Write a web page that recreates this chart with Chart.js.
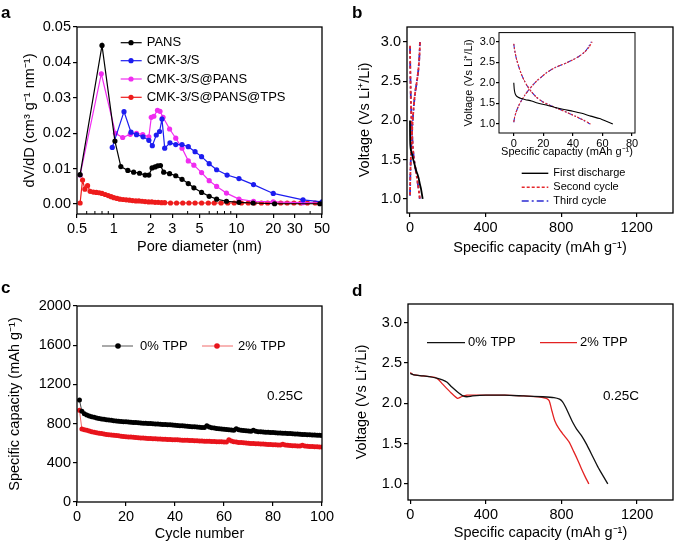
<!DOCTYPE html>
<html>
<head>
<meta charset="utf-8">
<script src="https://cdn.jsdelivr.net/npm/chart.js@4.4.1/dist/chart.umd.min.js"></script>
<style>
  html, body { margin: 0; padding: 0; background: #fff; }
  body { width: 675px; height: 543px; position: relative; overflow: hidden; }
  .panel { position: absolute; }
  .tag { position: absolute; font: bold 17px "Liberation Sans", Arial, sans-serif; line-height: 17px; color: #000; }
</style>
</head>
<body>
<div class="panel" style="left:0;top:0;width:337px;height:270px"><canvas id="chartA"></canvas></div>
<div class="panel" style="left:340px;top:0;width:335px;height:270px"><canvas id="chartB"></canvas></div>
<div class="panel" style="left:455px;top:25px;width:185px;height:135px"><canvas id="chartInset"></canvas></div>
<div class="panel" style="left:0;top:270px;width:337px;height:273px"><canvas id="chartC"></canvas></div>
<div class="panel" style="left:340px;top:270px;width:335px;height:273px"><canvas id="chartD"></canvas></div>
<div class="tag" style="left:1px;top:4px">a</div>
<div class="tag" style="left:352px;top:4px">b</div>
<div class="tag" style="left:1px;top:279px">c</div>
<div class="tag" style="left:352px;top:282px">d</div>
<script>
// ---- panel a: pore size distribution ----
const pansD = [0.53, 0.80, 1.02, 1.14, 1.30, 1.45, 1.62, 1.80, 1.93, 2.05, 2.17, 2.28, 2.40, 2.55, 2.85, 3.2, 3.6, 4.05, 4.5, 5.2, 6.0, 6.9, 8.3, 10.5, 13.7, 20.5, 48];
const pansV = [0.0083, 0.0448, 0.0178, 0.0106, 0.0095, 0.0090, 0.0087, 0.0082, 0.0082, 0.0102, 0.0105, 0.0108, 0.0109, 0.0090, 0.0086, 0.0080, 0.0070, 0.0058, 0.0046, 0.0033, 0.0022, 0.0014, 0.0008, 0.0005, 0.0003, 0.0001, 0.0001];

const cmkD = [0.97, 1.21, 1.38, 1.53, 1.73, 1.93, 2.06, 2.22, 2.36, 2.47, 2.6, 2.87, 3.2, 3.6, 4.05, 4.6, 5.2, 6.0, 6.9, 8.4, 10.5, 13.8, 20, 35, 50];
const cmkV = [0.0160, 0.0261, 0.0203, 0.0196, 0.0190, 0.0180, 0.0165, 0.0195, 0.0205, 0.0240, 0.0158, 0.0173, 0.0168, 0.0168, 0.0162, 0.0148, 0.0134, 0.0114, 0.0097, 0.0082, 0.0072, 0.0055, 0.0030, 0.0012, 0.0006];

const cmkPansD = [0.53, 0.79, 1.03, 1.18, 1.36, 1.53, 1.72, 1.93, 2.02, 2.12, 2.27, 2.38, 2.52, 2.85, 3.2, 3.6, 4.05, 4.5, 5.2, 6.0, 6.9, 8.3, 10.5, 13.8, 20, 35, 50];
const cmkPansV = [0.0082, 0.0368, 0.0200, 0.0188, 0.0197, 0.0200, 0.0196, 0.0190, 0.0245, 0.0248, 0.0265, 0.0262, 0.0245, 0.0212, 0.0186, 0.0158, 0.0122, 0.0110, 0.0089, 0.0066, 0.0050, 0.0031, 0.0014, 0.0008, 0.0006, 0.0004, 0.0003];

const tpsD = [0.53, 0.555, 0.58, 0.61, 0.64, 0.68, 0.72, 0.76, 0.80, 0.85, 0.90, 0.95, 1.0, 1.06, 1.12, 1.19, 1.26, 1.34, 1.42, 1.51, 1.6, 1.7, 1.8, 1.92, 2.04, 2.17, 2.3, 2.45, 2.6,
              2.9, 3.25, 3.65, 4.1, 4.6, 5.2, 5.9, 6.6, 7.5, 8.5, 9.6, 11, 12.5, 14, 16, 18, 20.5, 23, 26, 29.5, 33.5, 38, 44, 50];
const tpsV = [0.0003, 0.0068, 0.0042, 0.0052, 0.0036, 0.0034, 0.0033, 0.0032, 0.0030, 0.0027, 0.0024, 0.0021, 0.0018, 0.0016, 0.0014, 0.0013, 0.0012, 0.0011, 0.0010, 0.0009, 0.0009, 0.0008, 0.0007, 0.0006, 0.0006, 0.0005, 0.0005, 0.0004, 0.0004,
              0.0003, 0.0003, 0.0003, 0.0003, 0.0003, 0.0003, 0.0003, 0.0003, 0.0003, 0.0003, 0.0003, 0.0003, 0.0003, 0.0003, 0.0003, 0.0003, 0.0003, 0.0003, 0.0003, 0.0003, 0.0003, 0.0003, 0.0003, 0.0003];

const poreTicks = [0.5, 1, 2, 3, 5, 10, 20, 30, 50];
const poreMinorTicks = [0.6, 0.7, 0.8, 0.9, 4, 6, 7, 8, 9, 40];
const dvdTicks = [0, 0.01, 0.02, 0.03, 0.04, 0.05];

// ---- panel b: first cycles (main + inset share data) ----
const firstDisCap = [0, 0.3, 0.8, 1.6, 3, 5, 8, 12, 16, 22, 28, 34, 40, 46, 52, 58, 63, 67];
const firstDisV = [2.00, 1.85, 1.75, 1.69, 1.65, 1.62, 1.59, 1.56, 1.51, 1.46, 1.40, 1.35, 1.31, 1.26, 1.19, 1.13, 1.06, 1.00];

const secondDisCap = [0, 0.5, 1, 2, 3, 5, 7, 9, 12, 15, 19, 24, 30, 36, 42, 47, 52];
const secondDisV = [2.95, 2.82, 2.72, 2.56, 2.44, 2.22, 2.06, 1.93, 1.78, 1.66, 1.55, 1.46, 1.37, 1.28, 1.18, 1.10, 1.00];
const secondChgCap = [0, 0.5, 1.5, 3, 5, 7.5, 10, 13, 16, 19, 22, 25, 28, 32, 36, 40, 44, 48, 51, 53];
const secondChgV = [1.05, 1.15, 1.28, 1.42, 1.56, 1.70, 1.82, 1.95, 2.06, 2.15, 2.24, 2.31, 2.37, 2.43, 2.49, 2.56, 2.64, 2.75, 2.87, 3.00];

const thirdDisCap = [0, 0.5, 1, 2, 3, 5, 7, 9, 12, 15, 19, 24, 30, 36, 42, 47, 51.5];
const thirdDisV = [2.94, 2.81, 2.71, 2.55, 2.43, 2.22, 2.06, 1.93, 1.78, 1.66, 1.55, 1.46, 1.37, 1.28, 1.18, 1.09, 1.00];
const thirdChgCap = [0, 0.5, 1.5, 3, 5, 7.5, 10, 13, 16, 19, 22, 25, 28, 32, 36, 40, 44, 48, 50.5, 52.5];
const thirdChgV = [1.04, 1.15, 1.28, 1.42, 1.56, 1.70, 1.82, 1.95, 2.06, 2.15, 2.24, 2.31, 2.37, 2.43, 2.49, 2.56, 2.64, 2.75, 2.87, 3.00];

const capTicks = [0, 400, 800, 1200];
const voltTicks = [1.0, 1.5, 2.0, 2.5, 3.0];
const insetCapTicks = [0, 20, 40, 60, 80];

// ---- panel c: cycling at 0.25C ----
const capacity0 = [1040, 925, 900, 888, 878, 870, 864, 858, 853, 848,
                   844, 840, 836, 833, 830, 827, 824, 822, 820, 818,
                   816, 814, 812, 810, 808, 806, 804, 803, 801, 800,
                   798, 797, 795, 794, 792, 790, 789, 787, 785, 783,
                   781, 779, 777, 775, 773, 771, 769, 767, 765, 763,
                   761, 759, 777, 766, 758, 754, 751, 748, 745, 742,
                   739, 737, 735, 733, 748, 737, 732, 729, 727, 725,
                   723, 731, 722, 718, 716, 714, 713, 711, 710, 708,
                   707, 705, 704, 702, 701, 699, 698, 696, 695, 693,
                   692, 690, 689, 687, 686, 684, 683, 681, 680, 678];
const capacity2 = [935, 745, 738, 731, 724, 718, 712, 707, 702, 698,
                   694, 690, 687, 684, 681, 678, 675, 672, 669, 666,
                   664, 662, 660, 658, 656, 654, 652, 651, 649, 648,
                   646, 645, 644, 642, 641, 640, 639, 637, 636, 635,
                   634, 633, 631, 630, 629, 628, 627, 626, 624, 623,
                   622, 621, 620, 619, 618, 617, 616, 615, 614, 613,
                   612, 634, 622, 615, 611, 608, 606, 604, 602, 600,
                   598, 597, 595, 594, 592, 591, 589, 588, 586, 585,
                   584, 582, 581, 590, 581, 578, 576, 575, 574, 572,
                   571, 580, 571, 568, 567, 566, 564, 563, 562, 560];
const cycles = capacity0.map((_, i) => i + 1);
const cycleTicks = [0, 20, 40, 60, 80, 100];
const capacityTicks = [0, 400, 800, 1200, 1600, 2000];

// ---- panel d: discharge profiles ----
const dis0Cap = [0, 20, 60, 100, 140, 170, 195, 220, 250, 280, 300, 330, 400, 500, 600, 700, 760, 790, 805, 820, 840, 860, 880, 905, 935, 965, 995, 1020, 1045];
const dis0V = [2.37, 2.35, 2.34, 2.33, 2.31, 2.29, 2.26, 2.20, 2.14, 2.09, 2.08, 2.09, 2.10, 2.10, 2.09, 2.08, 2.07, 2.05, 2.02, 1.96, 1.86, 1.76, 1.68, 1.60, 1.48, 1.34, 1.20, 1.10, 1.00];
const dis2Cap = [0, 20, 60, 100, 130, 150, 170, 190, 215, 250, 270, 300, 350, 400, 500, 600, 680, 720, 735, 750, 765, 785, 810, 840, 865, 885, 905, 925, 945];
const dis2V = [2.38, 2.35, 2.34, 2.33, 2.32, 2.29, 2.24, 2.19, 2.13, 2.06, 2.08, 2.10, 2.10, 2.10, 2.10, 2.09, 2.08, 2.06, 2.03, 1.90, 1.78, 1.69, 1.61, 1.52, 1.40, 1.30, 1.19, 1.09, 1.00];

(function() {
    const FONT = '"Liberation Sans", Arial, sans-serif';
    Chart.defaults.font.family = FONT;
    Chart.defaults.color = '#000';
    Chart.defaults.animation = false;
    Chart.defaults.plugins.legend.display = false;
    Chart.defaults.plugins.tooltip.enabled = false;

    const toPoints = (xs, ys) => xs.map((x, i) => ({ x: x, y: ys[i] }));

    /**
     * Axis with fixed tick list and fixed box size
     */
    function axis(o) {
        return {
            type: o.type || 'linear',
            min: o.min,
            max: o.max,
            afterBuildTicks: s => { s.ticks = o.ticks.map(v => ({ value: v })); },
            afterFit: s => {
                if (s.isHorizontal()) s.height = o.size; else s.width = o.size;
            },
            grid: { display: true, drawOnChartArea: false, drawTicks: true, tickLength: o.tickLen || 4, color: '#000', lineWidth: 1.2 },
            border: { display: false },
            ticks: { font: { size: o.fontSize || 14.5 }, padding: o.pad != null ? o.pad : 2, maxRotation: 0, autoSkip: false, callback: o.fmt },
            title: { display: true, text: o.title, font: { size: o.titleSize || 14.5 }, padding: o.titlePad }
        };
    }

    // box around the plot area + any extra drawing (legends, notes)
    function decor(id, lineWidth, extra) {
        return {
            id: id,
            afterDraw(chart) {
                const { ctx, chartArea: a } = chart;
                ctx.save();
                ctx.strokeStyle = '#000';
                ctx.lineWidth = lineWidth;
                ctx.strokeRect(a.left, a.top, a.right - a.left, a.bottom - a.top);
                ctx.restore();
                if (extra) {
                    ctx.save();
                    extra(chart, ctx);
                    ctx.restore();
                }
            }
        };
    }

    function legendLine(ctx, x1, x2, y, color, width, dash) {
        ctx.beginPath();
        ctx.setLineDash(dash || []);
        ctx.strokeStyle = color;
        ctx.lineWidth = width;
        ctx.moveTo(x1, y);
        ctx.lineTo(x2, y);
        ctx.stroke();
        ctx.setLineDash([]);
    }

    function legendDot(ctx, x, y, r, color) {
        ctx.beginPath();
        ctx.fillStyle = color;
        ctx.arc(x, y, r, 0, Math.PI * 2);
        ctx.fill();
    }

    function label(ctx, text, x, y, size) {
        ctx.font = size + 'px ' + FONT;
        ctx.fillStyle = '#000';
        ctx.textBaseline = 'middle';
        ctx.textAlign = 'left';
        ctx.fillText(text, x, y);
    }

    const fix1 = v => Number(v).toFixed(1);

    // 1. Pore size distribution (log x)
    const colorsA = { pans: '#000000', cmk: '#1c1cf0', cmkPans: '#f02cf0', tps: '#ee1c1c' };
    const lineSet = (name, pts, color) => ({
        label: name, data: pts, borderColor: color, backgroundColor: color,
        borderWidth: 1.2, pointRadius: 2.6, pointBorderWidth: 0, tension: 0
    });
    new Chart(document.getElementById('chartA'), {
        type: 'line',
        data: {
            datasets: [
                lineSet('PANS', toPoints(pansD, pansV), colorsA.pans),
                lineSet('CMK-3/S', toPoints(cmkD, cmkV), colorsA.cmk),
                lineSet('CMK-3/S@PANS', toPoints(cmkPansD, cmkPansV), colorsA.cmkPans),
                lineSet('CMK-3/S@PANS@TPS', toPoints(tpsD, tpsV), colorsA.tps)
            ]
        },
        options: {
            responsive: true,
            maintainAspectRatio: false,
            layout: { padding: { top: 27, right: 15, bottom: 0, left: 0 } },
            scales: {
                x: axis({ type: 'logarithmic', min: 0.5, max: 50, ticks: poreTicks, size: 56, fmt: v => String(v),
                          title: 'Pore diameter (nm)', titlePad: { top: 0, bottom: 14 } }),
                y: axis({ min: -0.0028, max: 0.05, ticks: dvdTicks, size: 77, fmt: v => Number(v).toFixed(2),
                          title: 'dV/dD (cm³ g⁻¹ nm⁻¹)', titlePad: { top: 21, bottom: 0 } })
            }
        },
        plugins: [decor('frameA', 1.3, (chart, ctx) => {
            const xs = chart.scales.x;
            const bottom = chart.chartArea.bottom;
            ctx.strokeStyle = '#000';
            ctx.lineWidth = 1;
            poreMinorTicks.forEach(v => {
                const px = xs.getPixelForValue(v);
                ctx.beginPath();
                ctx.moveTo(px, bottom);
                ctx.lineTo(px, bottom - 3);
                ctx.stroke();
            });
            const rows = [
                ['PANS', colorsA.pans, 42.7],
                ['CMK-3/S', colorsA.cmk, 60.7],
                ['CMK-3/S@PANS', colorsA.cmkPans, 79],
                ['CMK-3/S@PANS@TPS', colorsA.tps, 97.3]
            ];
            rows.forEach(([text, color, y]) => {
                legendLine(ctx, 120.7, 141.7, y, color, 1.2);
                legendDot(ctx, 131, y, 2.6, color);
                label(ctx, text, 146.7, y, 13);
            });
        })]
    });

    // 2. First cycles voltage profiles
    const red = '#e5262b';
    const blue = '#2b2bd2';
    const profileSets = (w, dash, dashDot) => [
        { label: 'First discharge', data: toPoints(firstDisCap, firstDisV), borderColor: '#000', borderWidth: w },
        { label: 'Second cycle', data: toPoints(secondDisCap, secondDisV), borderColor: red, borderWidth: w, borderDash: dash },
        { label: 'Second cycle', data: toPoints(secondChgCap, secondChgV), borderColor: red, borderWidth: w, borderDash: dash },
        { label: 'Third cycle', data: toPoints(thirdDisCap, thirdDisV), borderColor: blue, borderWidth: w, borderDash: dashDot },
        { label: 'Third cycle', data: toPoints(thirdChgCap, thirdChgV), borderColor: blue, borderWidth: w, borderDash: dashDot }
    ].map(d => Object.assign(d, { pointRadius: 0, tension: 0.2, fill: false }));

    new Chart(document.getElementById('chartB'), {
        type: 'line',
        data: { datasets: profileSets(1.8, [3, 2], [7, 3, 2, 3]) },
        options: {
            responsive: true,
            maintainAspectRatio: false,
            layout: { padding: { top: 27, right: 2, bottom: 0, left: 0 } },
            scales: {
                x: axis({ min: -16, max: 1392, ticks: capTicks, size: 57, fmt: v => String(v),
                          title: 'Specific capacity (mAh g⁻¹)', titlePad: { top: 0, bottom: 13 } }),
                y: axis({ min: 0.82, max: 3.19, ticks: voltTicks, size: 67, fmt: fix1,
                          title: 'Voltage (Vs Li⁺/Li)', titlePad: { top: 16, bottom: 0 } })
            }
        },
        plugins: [decor('frameB', 1.3, (chart, ctx) => {
            const rows = [
                ['First discharge', '#000', [], 173.3],
                ['Second cycle', red, [3, 2], 187.3],
                ['Third cycle', blue, [7, 3, 2, 3], 201]
            ];
            rows.forEach(([text, color, dash, y]) => {
                legendLine(ctx, 181.7, 208.3, y, color, 1.4, dash);
                label(ctx, text, 213.3, y, 11);
            });
        })]
    });

    // 2b. Inset (zoom of the same profiles)
    new Chart(document.getElementById('chartInset'), {
        type: 'line',
        data: { datasets: profileSets(1.1, [2, 1.5], [5, 2, 1.5, 2]) },
        options: {
            responsive: true,
            maintainAspectRatio: false,
            layout: { padding: { top: 6, right: 5, bottom: 0, left: 0 } },
            scales: {
                x: axis({ min: -10, max: 82, ticks: insetCapTicks, size: 27, fontSize: 11, titleSize: 11, tickLen: 3, pad: 1,
                          fmt: v => String(v), title: 'Specific capactiy (mAh g⁻¹)', titlePad: { top: 0, bottom: 1.7 } }),
                y: axis({ min: 0.78, max: 3.22, ticks: voltTicks, size: 44, fontSize: 11, titleSize: 11, tickLen: 3, pad: 1,
                          fmt: fix1, title: 'Voltage (Vs Li⁺/Li)', titlePad: { top: 7.4, bottom: 0 } })
            }
        },
        plugins: [decor('frameInset', 1)]
    });

    // 3. Cycling performance
    new Chart(document.getElementById('chartC'), {
        type: 'line',
        data: {
            datasets: [
                { label: '0% TPP', data: toPoints(cycles, capacity0), borderColor: '#444', backgroundColor: '#000',
                  borderWidth: 1, pointRadius: 2.5, pointBorderWidth: 0 },
                { label: '2% TPP', data: toPoints(cycles, capacity2), borderColor: '#f06a6a', backgroundColor: '#e8141c',
                  borderWidth: 1, pointRadius: 2.5, pointBorderWidth: 0 }
            ]
        },
        options: {
            responsive: true,
            maintainAspectRatio: false,
            layout: { padding: { top: 36, right: 15, bottom: 0, left: 0 } },
            scales: {
                x: axis({ min: 0, max: 100, ticks: cycleTicks, size: 41, fmt: v => String(v),
                          title: 'Cycle number', titlePad: { top: 0, bottom: 0 } }),
                y: axis({ min: 0, max: 2000, ticks: capacityTicks, size: 77, fmt: v => String(v),
                          title: 'Specific capacity (mAh g⁻¹)', titlePad: { top: 6, bottom: 0 } })
            }
        },
        plugins: [decor('frameC', 1.3, (chart, ctx) => {
            legendLine(ctx, 102, 133, 76, '#555', 1);
            legendDot(ctx, 118, 76, 2.8, '#000');
            label(ctx, '0% TPP', 140, 76, 13);
            legendLine(ctx, 202, 233, 76, '#f06a6a', 1);
            legendDot(ctx, 217, 76, 2.8, '#e8141c');
            label(ctx, '2% TPP', 238, 76, 13);
            label(ctx, '0.25C', 267, 126.7, 13.5);
        })]
    });

    // 4. Discharge profiles
    new Chart(document.getElementById('chartD'), {
        type: 'line',
        data: {
            datasets: [
                { label: '0% TPP', data: toPoints(dis0Cap, dis0V), borderColor: '#111', borderWidth: 1.3, pointRadius: 0, tension: 0.2 },
                { label: '2% TPP', data: toPoints(dis2Cap, dis2V), borderColor: '#e32222', borderWidth: 1.3, pointRadius: 0, tension: 0.2 }
            ]
        },
        options: {
            responsive: true,
            maintainAspectRatio: false,
            layout: { padding: { top: 34, right: 2, bottom: 0, left: 0 } },
            scales: {
                x: axis({ min: -12, max: 1390, ticks: capTicks, size: 43, fmt: v => String(v),
                          title: 'Specific capacity (mAh g⁻¹)', titlePad: { top: 0, bottom: 1 } }),
                y: axis({ min: 0.8, max: 3.23, ticks: voltTicks, size: 68, fmt: fix1,
                          title: 'Voltage (Vs Li⁺/Li)', titlePad: { top: 13, bottom: 0 } })
            }
        },
        plugins: [decor('frameD', 1.3, (chart, ctx) => {
            legendLine(ctx, 87, 125, 72.7, '#111', 1.3);
            label(ctx, '0% TPP', 128, 72.7, 13);
            legendLine(ctx, 200, 237, 72.7, '#e32222', 1.3);
            label(ctx, '2% TPP', 240, 72.7, 13);
            label(ctx, '0.25C', 263, 126.7, 13.5);
        })]
    });
})();
</script>
</body>
</html>
